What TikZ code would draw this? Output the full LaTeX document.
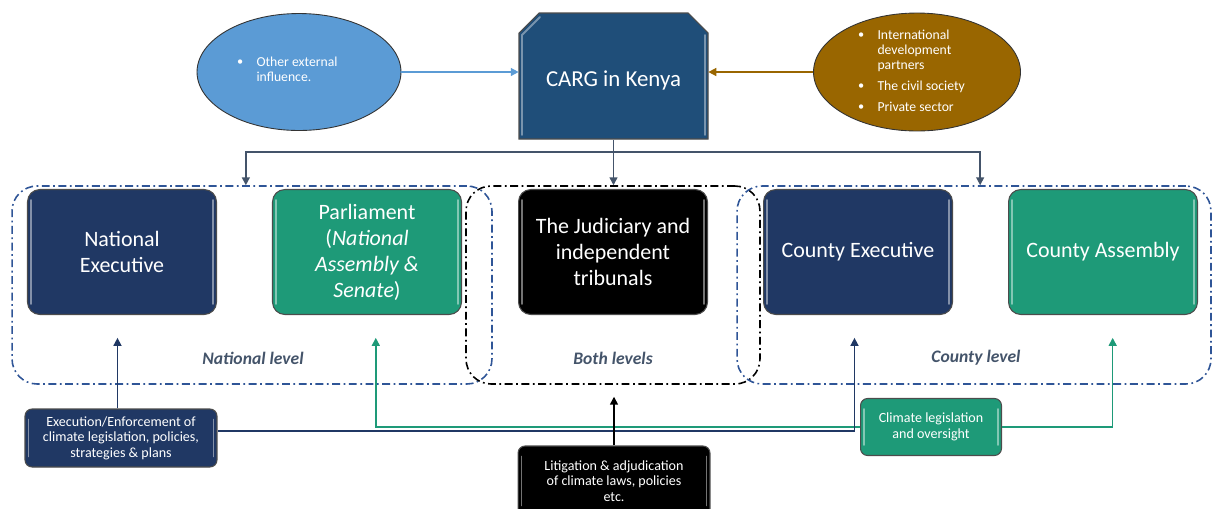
\documentclass[tikz,border=0pt]{standalone}
\usepackage{fontspec}
\setmainfont{Carlito}
\usetikzlibrary{shapes.geometric,arrows.meta}

\definecolor{cargblue}{HTML}{1F4E79}
\definecolor{navyfill}{HTML}{203864}
\definecolor{parlgreen}{HTML}{1E9A78}
\definecolor{extblue}{HTML}{5B9BD5}
\definecolor{partnerbrown}{HTML}{996600}
\definecolor{regionblue}{HTML}{2F5597}
\definecolor{slate}{HTML}{44546A}

\newcommand{\Bul}{\raisebox{0.15ex}{\scriptsize\textbullet}}

\tikzset{
  glossy/.style={path picture={
    \draw[white, opacity=0.45, line width=1pt, line cap=round]
      ([shift={(2pt,-6pt)}]path picture bounding box.north west) -- ([shift={(2pt,6pt)}]path picture bounding box.south west)
      ([shift={(-2pt,-6pt)}]path picture bounding box.north east) -- ([shift={(-2pt,6pt)}]path picture bounding box.south east);}},
  unit/.style={draw=black!70, line width=0.6pt, rounded corners=7pt, text=white, align=center,
    minimum width=3.78cm, minimum height=2.5cm, font=\fontsize{12.5}{14.8}\selectfont, glossy},
  navybox/.style={unit, fill=navyfill},
  greenbox/.style={unit, fill=parlgreen},
  blackbox/.style={unit, fill=black},
  role/.style={draw=black!70, line width=0.6pt, rounded corners=4pt, text=white, align=center,
    font=\fontsize{8}{8.9}\selectfont, glossy},
  region/.style={line width=0.9pt, rounded corners=0.5cm, dash pattern=on 4.5pt off 2pt on 1pt off 2pt,
    minimum height=3.96cm},
  lvltext/.style={text=slate, font=\fontsize{10}{11}\selectfont\bfseries\itshape},
  bubble/.style={ellipse, draw=black!80, line width=0.5pt},
  bubbletext/.style={anchor=west, text=white, font=\fontsize{7.8}{8.6}\selectfont},
  conn/.style={line width=0.85pt},
}

\begin{document}
\begin{tikzpicture}[x=0.02cm, y=-0.02cm, >={Triangle[length=4.5pt,width=4.5pt]}]
\useasboundingbox (0,0) rectangle (1212,508);

% the three levels
\node[region, draw=regionblue, minimum width=9.6cm] (natlvl) at (252,285) {};
\node[region, draw=black, minimum width=5.88cm] (bothlvl) at (613,285) {};
\node[region, draw=regionblue, minimum width=9.48cm] (ctylvl) at (974,285) {};

\node[lvltext] (natlbl) at (253,358) {National level};
\node[lvltext] (bothlbl) at (613,358) {Both levels};
\node[lvltext] (ctylbl) at (976,358) {County level};

% institutions
\node[navybox] (natexec) at (122,252) {National\\Executive};
\node[greenbox] (parl) at (367,252) {Parliament\\(\textit{National}\\\textit{Assembly \&}\\\textit{Senate})};
\node[blackbox] (judi) at (613,252) {The Judiciary and\\independent\\tribunals};
\node[navybox] (ctyexec) at (858,252) {County Executive};
\node[greenbox] (ctyass) at (1103,252) {County Assembly};

% top row: snipped box with a light bevel
\filldraw[fill=cargblue, draw=black!70, line width=0.6pt]
  (519,139) -- (519,33) -- (539,13) -- (688,13) -- (708,33) -- (708,139) -- cycle;
\draw[white, opacity=0.4, line width=1.1pt, line cap=round]
  (522,135) -- (522,35) -- (540,17) (705,35) -- (705,135);
\node[minimum width=3.78cm, minimum height=2.4cm, text=white, font=\fontsize{13}{15}\selectfont] (carg) at (613.5,80) {CARG in Kenya};

\node[bubble, fill=extblue, minimum width=4.08cm, minimum height=2.34cm] (ext) at (299,72) {};
\node[bubbletext] (exttxt) at (231,71) {\begin{tabular}{@{}l@{\hspace{7.5pt}}l@{}}
  \Bul & Other external\\
       & influence.
\end{tabular}};

\node[bubble, fill=partnerbrown, minimum width=4.14cm, minimum height=2.36cm] (partners) at (917,72) {};
\node[bubbletext] (parttxt) at (852,72.5) {\begin{tabular}{@{}l@{\hspace{7.5pt}}l@{}}
  \Bul & International\\
       & development\\
       & partners\\[3.5pt]
  \Bul & The civil society\\[3.5pt]
  \Bul & Private sector
\end{tabular}};

\draw[->, conn, extblue] (ext.east) -- (ext.east -| carg.west);
\draw[->, conn, partnerbrown] (partners.west) -- (partners.west -| carg.east);

\coordinate (split) at (614,152);
\draw[->, conn, slate] (carg.south) -- (bothlvl.north -| carg.south);
\draw[->, conn, slate] (split) -| ([xshift=-3.5pt]natlvl.north);
\draw[->, conn, slate] (split) -| ([xshift=3.5pt]ctylvl.north);

% roles
\node[role, fill=navyfill, minimum width=3.84cm, minimum height=1.16cm] (enforce) at (121,438)
  {Execution/Enforcement of\\climate legislation, policies,\\strategies \& plans};
\node[role, fill=black, minimum width=3.84cm, minimum height=1.4cm] (litig) at (614,481)
  {Litigation \& adjudication\\of climate laws, policies\\etc.};
\node[role, fill=parlgreen, minimum width=2.82cm, minimum height=1.14cm] (oversight) at (931,427)
  {Climate legislation\\and oversight};

\draw[->, conn, parlgreen, shorten >=13pt] (oversight.west) -| ([xshift=5pt]parl.south);
\draw[->, conn, parlgreen, shorten >=13pt] (oversight.east) -| ([xshift=5.5pt]ctyass.south);
\draw[->, conn, navyfill, shorten >=13pt] ([xshift=-2pt]enforce.north) -- ([xshift=-2pt]enforce.north |- natexec.south);
\draw[->, conn, navyfill, shorten >=13pt] ([yshift=4pt]enforce.east) -| ([xshift=-2pt]ctyexec.south);
\draw[->, conn, black, shorten >=6.8pt] (litig.north) -- (litig.north |- bothlvl.south);
\end{tikzpicture}
\end{document}
